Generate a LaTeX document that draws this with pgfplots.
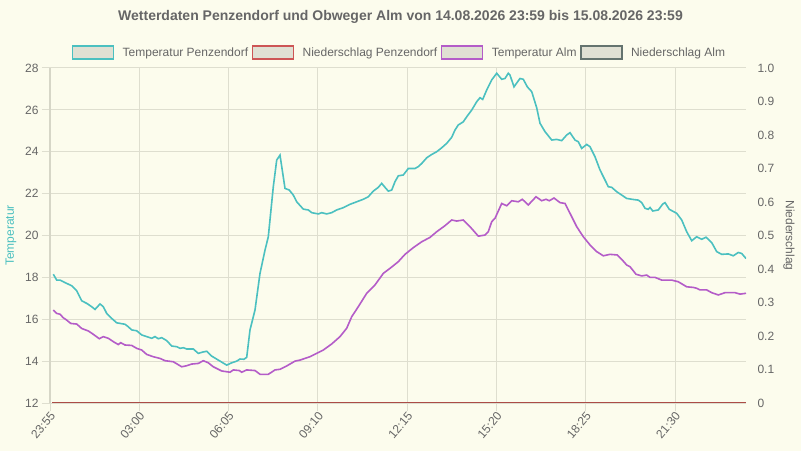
\documentclass[border=0pt]{standalone}
\usepackage{pgfplots}
\pgfplotsset{compat=1.18}
\usepackage{fontspec}
\setmainfont{Liberation Sans}
\definecolor{bgcol}{RGB}{252,252,237}
\definecolor{gridcol}{RGB}{222,222,207}
\definecolor{axiscol}{RGB}{214,214,199}
\definecolor{textgray}{RGB}{102,102,102}
\definecolor{tealc}{RGB}{75,192,192}
\definecolor{purplec}{RGB}{180,92,200}
\definecolor{redc}{RGB}{205,85,85}
\definecolor{redline}{RGB}{172,76,70}
\definecolor{grayc}{RGB}{100,115,110}
\definecolor{legfill}{RGB}{224,224,211}
\newcommand{\tfont}{\fontsize{12bp}{14bp}\selectfont}

\pgfplotstableread{
x y
53.3 18.15
56.7 17.87
60 17.87
65 17.75
71.7 17.6
76.7 17.36
81.7 16.88
86.7 16.76
91.7 16.6
95 16.47
100 16.73
103.3 16.6
106.7 16.28
111.7 16.04
116.7 15.83
125 15.76
128.3 15.64
131.7 15.49
136.7 15.45
141.7 15.25
146.7 15.17
151.7 15.09
155 15.17
158.3 15.07
161.7 15.12
166.7 14.98
171.7 14.72
176.7 14.69
180 14.61
183.3 14.64
186.7 14.58
193.3 14.58
198.3 14.37
203.3 14.44
206.7 14.47
211.7 14.24
218.3 14.05
226.7 13.81
231.7 13.92
236.7 14.0
240 14.1
244 14.09
246.7 14.18
250 15.49
255 16.44
260 18.19
265 19.3
268.3 19.94
273.3 22.33
276.7 23.6
280 23.84
285 22.25
289.3 22.17
293.3 21.93
296.7 21.61
303.3 21.26
308.3 21.22
311.7 21.09
318.3 21.03
321.7 21.09
326.7 21.03
331.7 21.09
336.7 21.22
343.3 21.33
350 21.49
356.7 21.61
363.3 21.73
368.3 21.85
373.3 22.12
378.3 22.3
381.7 22.49
385 22.3
388.3 22.12
391.7 22.17
395 22.57
398.3 22.85
403.3 22.89
408.3 23.2
415 23.2
418.3 23.29
421.7 23.44
426.7 23.71
431.7 23.87
436.7 24.0
441.7 24.19
446.7 24.4
451.7 24.69
455 25.04
458.3 25.28
463.3 25.43
466.7 25.67
471.7 25.99
476.7 26.39
480 26.58
482.7 26.5
486.7 26.95
491.7 27.43
496.7 27.75
501.7 27.46
505 27.5
508.3 27.75
510 27.66
514 27.1
520 27.5
523.3 27.46
527.3 27.1
531.7 26.87
536.7 26.1
540 25.36
545 24.96
551.7 24.56
556.7 24.59
561.7 24.53
566.7 24.8
570 24.91
575 24.56
578.3 24.48
581.7 24.16
586.7 24.35
590 24.24
595 23.76
600 23.13
605 22.65
608.3 22.33
611.7 22.3
616.7 22.09
621.7 21.93
626.7 21.77
633.3 21.72
638.3 21.69
641.7 21.57
645 21.3
648.3 21.25
650 21.34
652.7 21.17
658.3 21.22
662.7 21.5
665 21.57
669.3 21.25
676.7 21.06
681.7 20.74
686.7 20.18
691.7 19.75
696.7 19.94
701.7 19.82
706 19.92
711.7 19.66
716.7 19.23
721.7 19.1
728.3 19.12
733.3 19.03
738.3 19.19
741.7 19.14
746 18.9
}\tempPenz

\pgfplotstableread{
x y
53.3 16.44
56.7 16.28
60 16.24
63.3 16.07
66.7 15.96
70.7 15.8
76.7 15.77
81.7 15.56
88.3 15.44
93.3 15.28
99.3 15.07
103.3 15.17
108.3 15.09
113.3 14.93
118.3 14.79
120.7 14.88
125 14.77
131.7 14.75
136.7 14.61
141.7 14.53
146.7 14.32
153.3 14.21
160 14.13
165 14.02
173.3 13.97
181.7 13.73
186.7 13.78
191.7 13.86
198.3 13.89
203.3 14.02
208.3 13.92
213.3 13.73
221.7 13.53
230 13.47
233.3 13.58
239.3 13.55
241.7 13.47
246.7 13.58
255 13.55
260 13.37
268.3 13.37
275 13.58
280 13.61
286.7 13.77
295 14.0
300 14.05
310 14.21
323.3 14.53
331.7 14.82
340 15.17
346.7 15.57
351.7 16.12
358.3 16.6
366.7 17.24
375 17.64
383.3 18.19
390 18.43
398.3 18.75
405 19.1
413.3 19.42
421.7 19.7
430 19.91
436.7 20.18
445 20.47
451.7 20.74
456.7 20.69
463.3 20.74
470 20.42
478.3 19.97
485 20.02
488.3 20.18
491.7 20.66
495 20.82
501.7 21.53
506.7 21.42
511.7 21.66
518.3 21.61
522.3 21.73
528.3 21.46
536 21.85
541.7 21.66
546 21.73
549.3 21.66
554 21.79
560 21.57
565 21.53
570 21.06
576.7 20.42
583.3 19.94
590 19.55
596.7 19.23
603.3 19.03
610 19.1
617.3 19.07
621.7 18.86
626.7 18.59
630 18.51
636 18.15
641.7 18.07
646.7 18.11
650 18.0
655 18.0
661.7 17.87
671.7 17.87
678.3 17.79
686.7 17.55
693.3 17.52
696.7 17.48
700 17.40
706.7 17.40
711.7 17.27
718.3 17.16
725 17.27
735 17.27
740 17.2
746 17.24
}\tempAlm

\pgfplotstableread{
x y
52 0
746 0
}\niedPenz

\pgfplotstableread{
x y
52 0
746 0
}\niedAlm

\begin{document}
\begin{tikzpicture}
\fill[bgcol] (0,0) rectangle (801bp,451bp);
\node[font=\bfseries\fontsize{14bp}{16bp}\selectfont, text=textgray] at (400.5bp,434bp) {Wetterdaten Penzendorf und Obweger Alm von 14.08.2026 23:59 bis 15.08.2026 23:59};
\begin{axis}[
  at={(50bp,48bp)}, anchor=south west,
  scale only axis, width=696bp, height=335bp,
  xmin=50, xmax=746, ymin=12, ymax=28,
  xtick={50,139.3,228.6,317.9,407.2,496.5,585.8,675.1},
  xticklabels={23:55,03:00,06:05,09:10,12:15,15:20,18:25,21:30},
  ytick={12,14,16,18,20,22,24,26,28},
  /pgf/number format/assume math mode=true,
  axis x line*=bottom, axis y line*=left,
  x axis line style={draw=gridcol, line width=1bp},
  y axis line style={draw=axiscol, line width=2bp},
  grid=major, grid style={gridcol, line width=1bp},
  tick align=outside, major tick length=8bp,
  tick style={gridcol, line width=1bp},
  ticklabel style={font=\tfont, text=textgray},
  xticklabel style={rotate=50, anchor=east, xshift=3bp, yshift=-4bp},
  ylabel={Temperatur},
  ylabel style={font=\tfont, text=tealc, at={(axis description cs:-0.056,0.5)}, anchor=center},
  legend style={at={(axis description cs:0.502,1.0463)}, anchor=center, draw=none, fill=none,
    font=\tfont, text=textgray, legend columns=-1,
    /tikz/every odd column/.append style={column sep=6.5bp},
    /tikz/every even column/.append style={column sep=1.5bp}},
  legend cell align=left,
  legend image code/.code={\draw[#1, line width=1.5bp, fill=legfill] (0bp,-6.5bp) rectangle (41bp,6.5bp);},
]
\addplot[tealc, line width=1.6bp, mark=none] table[x=x,y=y] {\tempPenz};
\addlegendentry{Temperatur Penzendorf}
\addlegendimage{redc, line width=1.6bp}
\addlegendentry{Niederschlag Penzendorf}
\addplot[purplec, line width=1.6bp, mark=none] table[x=x,y=y] {\tempAlm};
\addlegendentry{Temperatur Alm}
\addlegendimage{grayc, line width=1.6bp}
\addlegendentry{Niederschlag Alm}
\end{axis}
\begin{axis}[
  at={(50bp,48bp)}, anchor=south west,
  scale only axis, width=696bp, height=335bp,
  xmin=50, xmax=746, ymin=0, ymax=1,
  axis x line=none, axis y line*=right,
  y axis line style={draw=none},
  ytick={0,0.1,0.2,0.3,0.4,0.5,0.6,0.7,0.8,0.9,1},
  yticklabels={0,0.1,0.2,0.3,0.4,0.5,0.6,0.7,0.8,0.9,1.0},
  major tick length=0pt,
  ticklabel style={font=\tfont, text=textgray},
  yticklabel style={xshift=8bp},
  ylabel={Niederschlag},
  ylabel style={font=\tfont, text=textgray, rotate=180, at={(axis description cs:1.0618,0.5)}, anchor=center},
]
\addplot[grayc, line width=1.6bp, mark=none] table[x=x,y=y] {\niedAlm};
\addplot[redline, line width=1.6bp, mark=none] table[x=x,y=y] {\niedPenz};
\end{axis}
\pgfresetboundingbox
\path[use as bounding box] (0,0) rectangle (801bp,451bp);
\end{tikzpicture}
\end{document}
